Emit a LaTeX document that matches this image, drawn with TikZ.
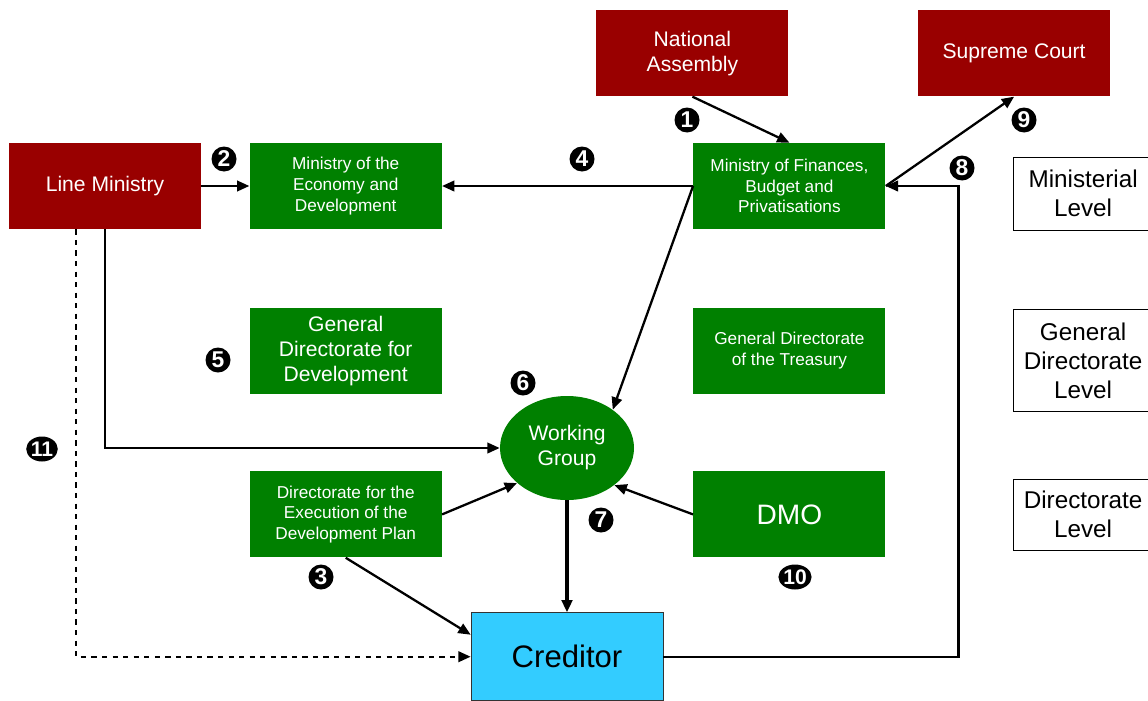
\documentclass[tikz,border=0pt]{standalone}
\usepackage{fontspec}
\setmainfont{Liberation Sans}
\usetikzlibrary{arrows.meta,positioning,shapes.geometric}

\definecolor{instred}{RGB}{153,0,0}
\definecolor{instgreen}{RGB}{0,128,0}
\definecolor{credblue}{RGB}{51,204,255}

\begin{document}
\begin{tikzpicture}[
  >={Triangle[length=7pt,width=6pt]},
  body/.style={fill=instred, text=white, align=center, minimum width=3.84cm, minimum height=1.72cm, font=\fontsize{12}{14.2}\selectfont},
  unit/.style={fill=instgreen, text=white, align=center, minimum width=3.84cm, minimum height=1.72cm, font=\fontsize{9.8}{11.8}\selectfont},
  bigunit/.style={unit, font=\fontsize{12}{14.2}\selectfont},
  level/.style={draw, thin, align=center, minimum width=2.8cm, font=\fontsize{13.8}{16.4}\selectfont},
  num/.style={circle, fill=black, text=white, inner sep=0pt, minimum size=0.5cm, font=\bfseries\fontsize{13}{13}\selectfont},
  wide/.style={ellipse, fill=black, text=white, inner sep=0pt, minimum width=0.6cm, minimum height=0.5cm, font=\bfseries\fontsize{12}{12}\selectfont},
  link/.style={->, line width=1.3pt}
]
\useasboundingbox (0,0) rectangle (22.96,-14);

% ministerial level
\node[body] (lm) at (2.10,-3.72) {Line Ministry};
\node[unit, right=0.96cm of lm] (econ) {Ministry of the\\Economy and\\Development};
\node[unit, right=5.02cm of econ] (fin) {Ministry of Finances,\\Budget and\\Privatisations};
\node[body, above=0.92cm of fin, xshift=-1.94cm] (na) {National\\Assembly};
\node[body, right=2.58cm of na] (sc) {Supreme Court};
\node[level, right=2.54cm of fin, yshift=-0.15cm, minimum height=1.46cm] (ml) {Ministerial\\Level};

% general directorate level
\node[bigunit, below=1.56cm of econ] (gdd) {General\\Directorate for\\Development};
\node[unit, below=1.56cm of fin] (gdt) {General Directorate\\of the Treasury};
\node[level, right=2.54cm of gdt, yshift=-0.2cm, minimum height=2.04cm] (gdl) {General\\Directorate\\Level};

% directorate level
\node[unit, below=1.54cm of gdd] (dep) {Directorate for the\\Execution of the\\Development Plan};
\node[unit, below=1.54cm of gdt, font=\fontsize{16}{18}\selectfont] (dmo) {DMO};
\node[level, right=2.54cm of dmo, minimum height=1.42cm] (dl) {Directorate\\Level};

\node[ellipse, fill=instgreen, text=white, align=center, minimum width=2.68cm, minimum height=2.08cm, font=\fontsize{12}{14.2}\selectfont] (wg) at (11.34,-8.96) {Working\\Group};
\node[draw=black!80, thin, fill=credblue, minimum width=3.84cm, minimum height=1.76cm, font=\fontsize{17.7}{21}\selectfont, below=2.24cm of wg] (cred) {Creditor};

\draw[link] (na.south) -- (fin.north);
\draw[link] (lm.east) -- (econ.west);
\draw[link] (fin.west) -- (econ.east);
\draw[link] (fin.west) -- (wg.40);
\draw[link] (fin.east) -- (sc.south);
\draw[link] (cred.east) -- ++(5.9,0) |- (fin.east);
\draw[link] (lm.south) |- (wg.west);
\draw[link, dashed] ([xshift=-0.58cm]lm.south) |- (cred.west);
\draw[link] (dep.east) -- (wg.215);
\draw[link] (dmo.west) -- (wg.322);
\draw[->, line width=2.5pt] (wg.south) -- (cred.north);
\draw[link] (dep.south) -- ([yshift=0.44cm]cred.west);

% step numbers
\node[num] (n1) at (13.74,-2.40) {1};
\node[num] (n2) at (4.48,-3.18) {2};
\node[num] (n3) at (6.42,-11.54) {3};
\node[num] (n4) at (11.64,-3.18) {4};
\node[num] (n5) at (4.36,-7.20) {5};
\node[num] (n6) at (10.46,-7.66) {6};
\node[num] (n7) at (12.02,-10.40) {7};
\node[num] (n8) at (19.24,-3.36) {8};
\node[num] (n9) at (20.48,-2.40) {9};
\node[wide] (n10) at (15.90,-11.54) {10};
\node[wide] (n11) at (0.84,-8.98) {11};

\end{tikzpicture}
\end{document}
